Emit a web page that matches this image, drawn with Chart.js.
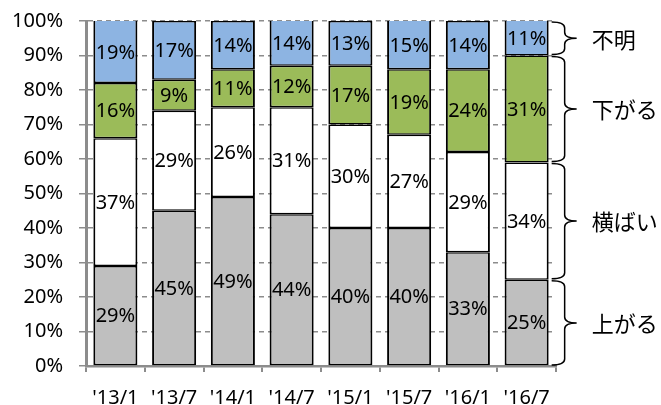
<!DOCTYPE html>
<html>
<head>
<meta charset="utf-8">
<script src="https://cdn.jsdelivr.net/npm/chart.js@4.4.1/dist/chart.umd.min.js"></script>
<style>
  html, body { margin: 0; padding: 0; background: #fff; }
  #wrap { width: 661px; height: 405px; }
</style>
</head>
<body>
<div id="wrap"><canvas id="chart" width="661" height="405"></canvas></div>
<script>
const periods = ["'13/1", "'13/7", "'14/1", "'14/7", "'15/1", "'15/7", "'16/1", "'16/7"];
const up = [29, 45, 49, 44, 40, 40, 33, 25];       // 上がる
const flat = [37, 29, 26, 31, 30, 27, 29, 34];     // 横ばい
const down = [16, 9, 11, 12, 17, 19, 24, 31];      // 下がる
const unknown = [19, 17, 14, 14, 13, 15, 14, 11];  // 不明
const seriesNames = ['上がる', '横ばい', '下がる', '不明'];
const seriesColors = ['#bfbfbf', '#ffffff', '#9bbb59', '#8db4e2'];

const FONT = "'Noto Sans', 'Noto Sans CJK JP', sans-serif";

// percent text in the middle of every segment
const segmentLabels = {
  id: 'segmentLabels',
  afterDatasetsDraw(chart) {
    const ctx = chart.ctx;
    ctx.save();
    ctx.font = '20px ' + FONT;
    ctx.fillStyle = '#000';
    ctx.textAlign = 'center';
    ctx.textBaseline = 'middle';
    chart.data.datasets.forEach((ds, i) => {
      chart.getDatasetMeta(i).data.forEach((bar, j) => {
        const top = Math.max(bar.y, chart.chartArea.top);
        ctx.fillText(ds.data[j] + '%', bar.x, (top + bar.base) / 2 + 1);
      });
    });
    ctx.restore();
  }
};

// curly braces beside the last bar with the series names
const braces = {
  id: 'braces',
  afterDraw(chart) {
    const ctx = chart.ctx;
    const y = chart.scales.y;
    const last = chart.getDatasetMeta(0).data.length - 1;
    const bar = chart.getDatasetMeta(0).data[last];
    const x0 = bar.x + bar.width / 2 + 3;
    const xv = x0 + 13;
    const tip = xv + 12;
    let cum = 0;
    ctx.save();
    ctx.strokeStyle = '#000';
    ctx.lineWidth = 1.5;
    chart.data.datasets.forEach((ds, i) => {
      const v = ds.data[last];
      const bottom = y.getPixelForValue(cum) - 1;
      const top = Math.max(y.getPixelForValue(Math.min(cum + v, 100)), y.top) + 1;
      cum += v;
      const mid = (top + bottom) / 2;
      const r = 6;
      ctx.beginPath();
      ctx.moveTo(x0, top);
      ctx.quadraticCurveTo(xv, top, xv, top + r);
      ctx.lineTo(xv, mid - r);
      ctx.quadraticCurveTo(xv, mid, tip, mid);
      ctx.quadraticCurveTo(xv, mid, xv, mid + r);
      ctx.lineTo(xv, bottom - r);
      ctx.quadraticCurveTo(xv, bottom, x0, bottom);
      ctx.stroke();
      ctx.font = '22px ' + FONT;
      ctx.fillStyle = '#000';
      ctx.textAlign = 'left';
      ctx.textBaseline = 'middle';
      ctx.fillText(ds.label, tip + 15, mid + 3);
    });
    ctx.restore();
  }
};

const values = [up, flat, down, unknown];

new Chart(document.getElementById('chart'), {
  type: 'bar',
  data: {
    labels: periods,
    datasets: values.map((d, i) => ({
      label: seriesNames[i],
      data: d,
      backgroundColor: seriesColors[i],
      borderColor: '#000',
      borderWidth: { left: 2, right: 2, top: 1.5, bottom: 1.5 },
      borderSkipped: false,
      categoryPercentage: 1,
      barPercentage: 0.75
    }))
  },
  options: {
    responsive: false,
    animation: false,
    layout: { padding: { top: 21, right: 105, left: 0, bottom: 0 } },
    plugins: {
      legend: { display: false },
      tooltip: { enabled: false }
    },
    scales: {
      x: {
        stacked: true,
        afterFit(scale) { scale.height = 39; },
        grid: {
          drawOnChartArea: false,
          color: '#8c8c8c',
          tickColor: '#8c8c8c',
          tickLength: 6,
          lineWidth: 2,
          offset: true
        },
        border: { display: true, color: '#8c8c8c', width: 2.5 },
        ticks: {
          font: { family: FONT, size: 20 },
          color: '#000',
          padding: 14,
          maxRotation: 0,
          autoSkip: false
        }
      },
      y: {
        stacked: true,
        min: 0,
        max: 100,
        afterFit(scale) { scale.width = 86; },
        grid: {
          color: '#8c8c8c',
          lineWidth: 1.5,
          tickLength: 7,
          tickColor: '#8c8c8c',
          tickBorderDash: []
        },
        border: { display: true, color: '#8c8c8c', width: 3, dash: [5, 4] },
        ticks: {
          stepSize: 10,
          // small lineHeight keeps the label half-height out of the top margin
          font: { family: FONT, size: 20, lineHeight: 0.5 },
          color: '#000',
          padding: 16,
          callback: v => v + '%'
        }
      }
    }
  },
  plugins: [segmentLabels, braces]
});
</script>
</body>
</html>
